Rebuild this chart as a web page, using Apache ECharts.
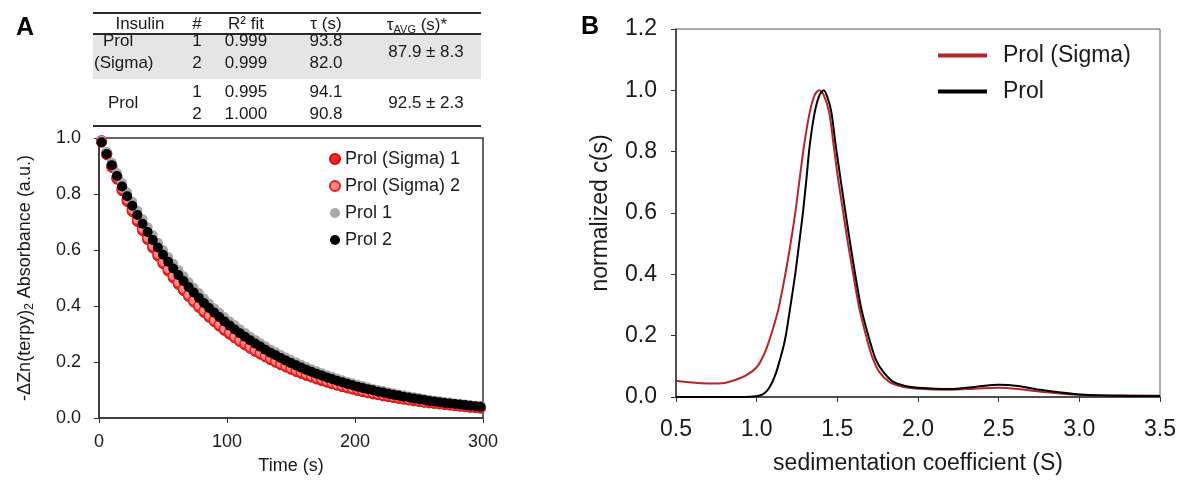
<!DOCTYPE html>
<html lang="en">
<head>
    <meta charset="UTF-8">
    <title>Insulin kinetics and c(s)</title>
    <script src="https://cdn.jsdelivr.net/npm/echarts@6/dist/echarts.min.js"></script>
    <style>
        body { margin: 0; background: #fff; }
        #chart { width: 1182px; height: 480px; }
    </style>
</head>
<body>
    <div id="chart"></div>
    <script>
        // panel A: time points (s), one every 4 s
        var timeS = [2, 6, 10, 14, 18, 22, 26, 30, 34, 38, 42, 46, 50, 54, 58, 62, 66, 70, 74, 78,
            82, 86, 90, 94, 98, 102, 106, 110, 114, 118, 122, 126, 130, 134, 138, 142, 146, 150, 154, 158,
            162, 166, 170, 174, 178, 182, 186, 190, 194, 198, 202, 206, 210, 214, 218, 222, 226, 230, 234, 238,
            242, 246, 250, 254, 258, 262, 266, 270, 274, 278, 282, 286, 290, 294, 298];
        // -ΔZn(terpy)2 absorbance, normalized
        var sigma1 = [0.985, 0.94, 0.895, 0.853, 0.812, 0.773, 0.737, 0.702, 0.669, 0.637, 0.607, 0.578, 0.551, 0.525, 0.5, 0.477, 0.455, 0.434, 0.414, 0.395,
            0.377, 0.36, 0.344, 0.328, 0.313, 0.299, 0.286, 0.273, 0.261, 0.249, 0.238, 0.228, 0.218, 0.208, 0.199, 0.19, 0.182, 0.174, 0.166, 0.159,
            0.152, 0.146, 0.139, 0.133, 0.128, 0.122, 0.117, 0.112, 0.107, 0.103, 0.098, 0.094, 0.09, 0.086, 0.083, 0.079, 0.076, 0.073, 0.07, 0.067,
            0.064, 0.061, 0.059, 0.056, 0.054, 0.052, 0.05, 0.048, 0.046, 0.044, 0.042, 0.04, 0.038, 0.037, 0.035];
        var sigma2 = [0.99, 0.945, 0.9, 0.859, 0.819, 0.78, 0.744, 0.709, 0.676, 0.644, 0.614, 0.585, 0.558, 0.532, 0.507, 0.484, 0.461, 0.44, 0.42, 0.401,
            0.383, 0.366, 0.349, 0.334, 0.319, 0.305, 0.291, 0.278, 0.266, 0.254, 0.243, 0.233, 0.222, 0.213, 0.204, 0.195, 0.187, 0.179, 0.171, 0.164,
            0.157, 0.15, 0.144, 0.138, 0.132, 0.127, 0.121, 0.116, 0.112, 0.107, 0.103, 0.098, 0.094, 0.09, 0.087, 0.083, 0.08, 0.076, 0.073, 0.07,
            0.067, 0.065, 0.062, 0.059, 0.057, 0.055, 0.053, 0.05, 0.048, 0.046, 0.045, 0.043, 0.041, 0.039, 0.038];
        var prol1 = [0.99, 0.95, 0.912, 0.875, 0.839, 0.805, 0.772, 0.74, 0.71, 0.681, 0.653, 0.626, 0.6, 0.575, 0.551, 0.528, 0.506, 0.485, 0.465, 0.446,
            0.427, 0.409, 0.392, 0.376, 0.36, 0.345, 0.331, 0.317, 0.304, 0.291, 0.279, 0.267, 0.256, 0.245, 0.235, 0.225, 0.216, 0.207, 0.198, 0.19,
            0.182, 0.174, 0.167, 0.16, 0.153, 0.147, 0.141, 0.135, 0.129, 0.124, 0.119, 0.114, 0.109, 0.104, 0.1, 0.096, 0.092, 0.088, 0.084, 0.081,
            0.077, 0.074, 0.071, 0.068, 0.065, 0.062, 0.06, 0.057, 0.055, 0.052, 0.05, 0.048, 0.046, 0.044, 0.042];
        var prol2 = [0.985, 0.943, 0.903, 0.864, 0.827, 0.792, 0.758, 0.725, 0.694, 0.664, 0.636, 0.609, 0.583, 0.558, 0.534, 0.511, 0.489, 0.468, 0.448, 0.429,
            0.411, 0.393, 0.377, 0.361, 0.345, 0.33, 0.316, 0.303, 0.29, 0.278, 0.266, 0.255, 0.244, 0.233, 0.224, 0.214, 0.205, 0.196, 0.188, 0.18,
            0.172, 0.165, 0.158, 0.152, 0.145, 0.139, 0.133, 0.128, 0.122, 0.117, 0.112, 0.107, 0.103, 0.099, 0.094, 0.091, 0.087, 0.083, 0.08, 0.076,
            0.073, 0.07, 0.067, 0.064, 0.061, 0.059, 0.056, 0.054, 0.052, 0.05, 0.048, 0.046, 0.044, 0.042, 0.04];

        // panel B: sedimentation coefficient (S) vs normalized c(s)
        var csSigma = [[0.5, 0.053], [0.6, 0.047], [0.7, 0.044], [0.8, 0.046], [0.875, 0.057], [0.94, 0.072], [1.0, 0.097],
            [1.04, 0.132], [1.072, 0.175], [1.105, 0.23], [1.134, 0.285], [1.175, 0.393], [1.21, 0.5], [1.241, 0.607], [1.267, 0.714],
            [1.294, 0.821], [1.329, 0.929], [1.36, 0.985], [1.387, 1.0], [1.415, 0.985], [1.449, 0.929], [1.477, 0.821],
            [1.504, 0.714], [1.535, 0.607], [1.566, 0.5], [1.601, 0.393], [1.638, 0.285], [1.689, 0.178], [1.72, 0.125],
            [1.76, 0.082], [1.82, 0.05], [1.9, 0.034], [2.0, 0.027], [2.2, 0.024], [2.35, 0.027], [2.5, 0.03], [2.62, 0.026],
            [2.75, 0.018], [3.0, 0.007], [3.25, 0.005], [3.5, 0.004]];
        var csProl = [[0.5, 0.0], [0.9, 0.0], [0.98, 0.002], [1.02, 0.005], [1.05, 0.013], [1.08, 0.032], [1.105, 0.058], [1.13, 0.095],
            [1.175, 0.185], [1.206, 0.285], [1.237, 0.393], [1.263, 0.5], [1.288, 0.607], [1.309, 0.714], [1.329, 0.821],
            [1.36, 0.929], [1.39, 0.985], [1.416, 1.0], [1.44, 0.975], [1.463, 0.929], [1.49, 0.821], [1.519, 0.714],
            [1.549, 0.607], [1.58, 0.5], [1.613, 0.393], [1.65, 0.285], [1.704, 0.178], [1.74, 0.12], [1.78, 0.085],
            [1.84, 0.052], [1.92, 0.036], [2.0, 0.03], [2.2, 0.026], [2.35, 0.033], [2.5, 0.04], [2.62, 0.036], [2.75, 0.024],
            [3.0, 0.008], [3.25, 0.004], [3.5, 0.003]];

        // table above panel A
        var tableHeader = ['Insulin', '#', 'R\u00b2 fit', '\u03c4 (s)'];
        var tableRows = [
            ['1', '0.999', '93.8'],
            ['2', '0.999', '82.0'],
            ['1', '0.995', '94.1'],
            ['2', '1.000', '90.8']
        ];
        var tauAvg = ['87.9 \u00b1 8.3', '92.5 \u00b1 2.3'];

        var font = '"Liberation Sans", Arial, sans-serif';
        var ink = '#1a1a1a';

        function txt(x, y, s, align) {
            return {
                type: 'text', x: x, y: y,
                style: { text: s, font: '17px ' + font, fill: ink, align: align || 'center', verticalAlign: 'middle' }
            };
        }
        function hline(y, w) {
            return { type: 'line', shape: { x1: 93, y1: y, x2: 481, y2: y }, style: { stroke: '#2a2a2a', lineWidth: w || 2 } };
        }

        var colX = [197, 246, 326];
        var rowY = [41, 63, 92, 114];
        var graphics = [
            { type: 'rect', shape: { x: 93, y: 35, width: 388, height: 44 }, style: { fill: '#e5e5e5' } },
            hline(13), hline(34), hline(126),
            txt(140, 24, tableHeader[0]),
            txt(colX[0], 24, tableHeader[1]),
            txt(colX[1], 24, tableHeader[2]),
            txt(colX[2], 24, tableHeader[3]),
            {
                type: 'text', x: 417, y: 25,
                style: {
                    text: '{t|\u03c4}{s|AVG}{t| (s)*}', align: 'center', verticalAlign: 'middle',
                    rich: {
                        t: { font: '17px ' + font, fill: ink, lineHeight: 20 },
                        s: { font: '11px ' + font, fill: ink, lineHeight: 20, verticalAlign: 'bottom', padding: [6, 0, 0, 0] }
                    }
                }
            },
            txt(103, 41, 'Prol', 'left'),
            txt(94, 63, '(Sigma)', 'left'),
            txt(108, 103, 'Prol', 'left'),
            txt(426, 52, tauAvg[0]),
            txt(426, 103, tauAvg[1]),
            { type: 'text', x: 16, y: 16, style: { text: 'A', font: 'bold 25px ' + font, fill: '#000' } },
            { type: 'text', x: 581, y: 15, style: { text: 'B', font: 'bold 25px ' + font, fill: '#000' } }
        ];
        tableRows.forEach(function (r, i) {
            r.forEach(function (v, j) { graphics.push(txt(colX[j], rowY[i], v)); });
        });

        function pairs(ys) { return timeS.map(function (t, i) { return [t, ys[i]]; }); }

        var axisLine = { lineStyle: { color: '#333', width: 1.5 } };
        var axisTick = { lineStyle: { color: '#333' }, length: 5 };

        var myChart = echarts.init(document.getElementById('chart'));
        var option = {
            animation: false,
            textStyle: { fontFamily: font },
            graphic: graphics,
            grid: [
                { left: 99, top: 138, width: 384, height: 283, show: true, borderColor: '#333', borderWidth: 1.5 },
                { left: 676, top: 29, right: 22, bottom: 78, show: true, borderColor: '#555', borderWidth: 1 }
            ],
            legend: [
                {
                    orient: 'vertical', left: 329, top: 150, padding: 0, itemGap: 9, itemWidth: 10, itemHeight: 10,
                    icon: 'circle',
                    data: ['Prol (Sigma) 1', 'Prol (Sigma) 2', 'Prol 1', 'Prol 2'],
                    textStyle: { fontSize: 18, color: ink }
                },
                {
                    orient: 'vertical', left: 938, top: 44, padding: 0, itemGap: 13, itemWidth: 49, itemHeight: 4,
                    icon: 'rect',
                    data: ['Prol (Sigma)', 'Prol'],
                    textStyle: { fontSize: 23, color: ink, padding: [0, 0, 0, 11] }
                }
            ],
            xAxis: [
                {
                    gridIndex: 0, type: 'value', min: 0, max: 300, interval: 100,
                    name: 'Time (s)', nameLocation: 'middle', nameGap: 39,
                    nameTextStyle: { fontSize: 18, color: ink },
                    axisLine: axisLine, axisTick: axisTick, splitLine: { show: false },
                    axisLabel: { fontSize: 18, color: ink, margin: 15 }
                },
                {
                    gridIndex: 1, type: 'value', min: 0.5, max: 3.5, interval: 0.5,
                    name: 'sedimentation coefficient (S)', nameLocation: 'middle', nameGap: 55,
                    nameTextStyle: { fontSize: 23, color: ink },
                    axisLine: axisLine, axisTick: axisTick, splitLine: { show: false },
                    axisLabel: { fontSize: 23, color: ink, margin: 21, formatter: function (v) { return v.toFixed(1); } }
                }
            ],
            yAxis: [
                {
                    gridIndex: 0, type: 'value', min: 0, max: 1, interval: 0.2,
                    name: '{n|-\u0394Zn(terpy)}{s|2}{n| Absorbance (a.u.)}', nameLocation: 'middle', nameGap: 63,
                    nameTextStyle: {
                        rich: {
                            n: { fontSize: 18, color: ink, lineHeight: 22 },
                            s: { fontSize: 12, color: ink, lineHeight: 22, verticalAlign: 'bottom', padding: [8, 0, 0, 0] }
                        }
                    },
                    axisLine: axisLine, axisTick: axisTick, splitLine: { show: false },
                    axisLabel: { fontSize: 18, color: ink, margin: 18, formatter: function (v) { return v.toFixed(1); } }
                },
                {
                    gridIndex: 1, type: 'value', min: 0, max: 1.2, interval: 0.2,
                    name: '{n|normalized }{i|c}{n|(s)}', nameLocation: 'middle', nameGap: 64,
                    nameTextStyle: {
                        rich: {
                            n: { fontSize: 23, color: ink },
                            i: { fontSize: 23, color: ink, fontStyle: 'italic' }
                        }
                    },
                    axisLine: axisLine, axisTick: axisTick, splitLine: { show: false },
                    axisLabel: { fontSize: 23, color: ink, margin: 19, formatter: function (v) { return v.toFixed(1); } }
                }
            ],
            series: [
                {
                    name: 'Prol (Sigma) 1', type: 'scatter', xAxisIndex: 0, yAxisIndex: 0, data: pairs(sigma1),
                    symbolSize: 10, itemStyle: { color: '#f22b2b', borderColor: '#e00000', borderWidth: 1, opacity: 1 }
                },
                {
                    name: 'Prol (Sigma) 2', type: 'scatter', xAxisIndex: 0, yAxisIndex: 0, data: pairs(sigma2),
                    symbolSize: 10, itemStyle: { color: '#ff8a8a', borderColor: '#f01a1a', borderWidth: 1.5, opacity: 1 }
                },
                {
                    name: 'Prol 1', type: 'scatter', xAxisIndex: 0, yAxisIndex: 0, data: pairs(prol1),
                    symbolSize: 10, itemStyle: { color: '#a8a8a8', opacity: 1 }
                },
                {
                    name: 'Prol 2', type: 'scatter', xAxisIndex: 0, yAxisIndex: 0, data: pairs(prol2),
                    symbolSize: 10, itemStyle: { color: '#000', opacity: 1 }
                },
                {
                    name: 'Prol (Sigma)', type: 'line', xAxisIndex: 1, yAxisIndex: 1, data: csSigma,
                    smooth: 0.3, showSymbol: false,
                    lineStyle: { color: '#b3272a', width: 2 }, itemStyle: { color: '#b3272a' }
                },
                {
                    name: 'Prol', type: 'line', xAxisIndex: 1, yAxisIndex: 1, data: csProl,
                    smooth: 0.3, showSymbol: false,
                    lineStyle: { color: '#000', width: 2 }, itemStyle: { color: '#000' }
                }
            ]
        };
        myChart.setOption(option);
    </script>
</body>
</html>
